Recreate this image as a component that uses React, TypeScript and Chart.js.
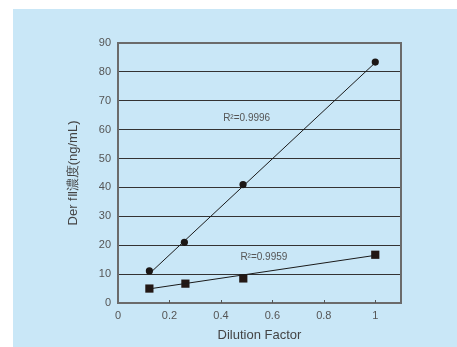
import React, { useEffect, useRef } from "react";
import { Chart, registerables } from "chart.js";

Chart.register(...registerables);

// ---- data ----
const dilutionCircle = [0.122, 0.258, 0.486, 1.0];
const valuesCircle = [11.1, 21.0, 41.0, 83.4];
const dilutionSquare = [0.122, 0.262, 0.487, 1.0];
const valuesSquare = [5.0, 6.7, 8.5, 16.7];
const fitCircleX = [0.125, 1.0];
const fitCircleY = [10.4, 83.2];
const fitSquareX = [0.122, 1.0];
const fitSquareY = [4.9, 16.5];
const r2Labels = ["R²=0.9996", "R²=0.9959"];
const r2LabelX = [0.5, 0.567];
const r2LabelY = [64.1, 16.0];
const xTitle = "Dilution Factor";
const yTitle = "Der fⅡ濃度(ng/mL)";

const FONT = "'Liberation Sans Narrow', 'Liberation Sans', Arial, sans-serif";
const FONT_W = "'Liberation Sans', Arial, sans-serif";

const toPts = (xs: number[], ys: number[]) => xs.map((x, i) => ({ x, y: ys[i] }));

const framePlugin = {
  id: "frame",
  afterDatasetsDraw(chart: any) {
    const { ctx, chartArea, scales } = chart;
    const xs = scales.x;
    ctx.save();
    // right border
    ctx.strokeStyle = "#6b6b6b";
    ctx.lineWidth = 2;
    ctx.beginPath();
    ctx.moveTo(chartArea.right, chartArea.top - 1);
    ctx.lineTo(chartArea.right, chartArea.bottom + 1);
    ctx.stroke();
    // inward tick marks on x axis
    ctx.lineWidth = 1;
    ctx.strokeStyle = "#555";
    xs.ticks.forEach((t: any, i: number) => {
      if (t.value === 0) return;
      const px = Math.round(xs.getPixelForValue(t.value)) + 0.5;
      ctx.beginPath();
      ctx.moveTo(px, chartArea.bottom);
      ctx.lineTo(px, chartArea.bottom - 3);
      ctx.stroke();
    });
    // R² labels
    ctx.fillStyle = "#555";
    ctx.font = `10px ${FONT_W}`;
    ctx.textAlign = "center";
    ctx.textBaseline = "middle";
    r2Labels.forEach((txt, i) => {
      ctx.fillText(txt, xs.getPixelForValue(r2LabelX[i]), scales.y.getPixelForValue(r2LabelY[i]));
    });
    ctx.restore();
  },
};

export default function App() {
  const ref = useRef<HTMLCanvasElement>(null);
  useEffect(() => {
    if (!ref.current) return;
    const chart = new Chart(ref.current, {
      type: "scatter",
      data: {
        datasets: [
          {
            data: toPts(fitCircleX, fitCircleY),
            showLine: true,
            borderColor: "#1a1a1a",
            borderWidth: 1,
            pointRadius: 0,
          },
          {
            data: toPts(fitSquareX, fitSquareY),
            showLine: true,
            borderColor: "#1a1a1a",
            borderWidth: 1,
            pointRadius: 0,
          },
          {
            data: toPts(dilutionCircle, valuesCircle),
            pointStyle: "circle",
            pointRadius: 3.6,
            backgroundColor: "#1c1715",
            borderColor: "#1c1715",
            borderWidth: 0,
          },
          {
            data: toPts(dilutionSquare, valuesSquare),
            pointStyle: "rect",
            pointRadius: 5.8,
            backgroundColor: "#231815",
            borderColor: "#231815",
            borderWidth: 0,
          },
        ],
      },
      options: {
        responsive: false,
        animation: false,
        events: [],
        layout: { padding: { top: 34, right: 56, left: 0, bottom: 0 } },
        plugins: { legend: { display: false }, tooltip: { enabled: false } },
        scales: {
          x: {
            type: "linear",
            min: 0,
            max: 1.1,
            afterFit: (s: any) => {
              s.height = 44;
            },
            ticks: {
              stepSize: 0.2,
              includeBounds: false,
              padding: 6,
              color: "#555",
              font: { family: FONT, size: 11 },
              callback: (v: any) => String(Math.round(Number(v) * 10) / 10),
              maxRotation: 0,
            },
            grid: { display: true, drawOnChartArea: false, drawTicks: false },
            border: { display: true, color: "#6b6b6b", width: 2 },
            title: {
              display: true,
              text: xTitle,
              color: "#444",
              font: { family: FONT_W, size: 13 },
              padding: { top: 0, bottom: 4 },
            },
          },
          y: {
            type: "linear",
            min: 0,
            max: 90,
            afterFit: (s: any) => {
              s.width = 105;
            },
            ticks: {
              stepSize: 10,
              padding: 7,
              color: "#555",
              font: { family: FONT, size: 11 },
            },
            grid: {
              drawTicks: false,
              color: (c: any) =>
                c.tick && c.tick.value === 0
                  ? "rgba(0,0,0,0)"
                  : c.tick && c.tick.value === 90
                  ? "#6b6b6b"
                  : "#333",
              lineWidth: (c: any) => (c.tick && c.tick.value === 90 ? 2 : 1),
            },
            border: { display: true, color: "#6b6b6b", width: 2 },
            title: {
              display: true,
              text: yTitle,
              color: "#444",
              font: { family: FONT_W, size: 13 },
              padding: { top: 53, bottom: 0 },
            },
          },
        },
      },
      plugins: [framePlugin],
    });
    return () => chart.destroy();
  }, []);
  return (
    <div
      style={{
        position: "absolute",
        left: 13,
        top: 9,
        width: 444,
        height: 338,
        background: "#c9e7f7",
      }}
    >
      <canvas ref={ref} width={444} height={338} style={{ display: "block" }} />
    </div>
  );
}
